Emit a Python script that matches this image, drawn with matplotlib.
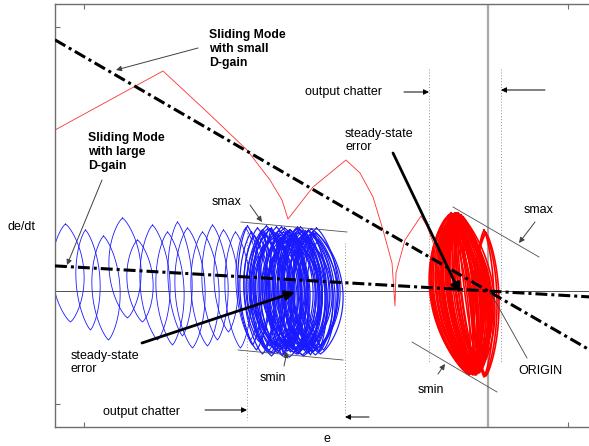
import numpy as np
import matplotlib
matplotlib.use("Agg")
from matplotlib import pyplot as plt

plt.rcParams["font.family"] = ["Liberation Sans", "DejaVu Sans"]
plt.rcParams["font.size"] = 9

# phase plane, e on x and de/dt on y (arbitrary units, origin at 0,0)
x_lim = (-433, 109)
y_lim = (-136, 287)

# sliding surfaces through the origin
slope_small_gain = -0.58
slope_large_gain = -0.058

# small D-gain reaching trajectory (before it settles into the red band)
reach_e = [-433, -325, -283, -241, -218, -206, -200, -175, -142, -128, -115,
           -105, -96, -93, -92, -83, -67, -61, -54, -48]
reach_de = [161, 220, 181, 141, 111, 91, 72, 104, 131, 118, 94,
            61, 28, -15, 18, 51, 75, 65, 46, 21]

# chattering loops, large D-gain (blue): centre e, half width, top, bottom
# first 14 are the loose loops while reaching, the rest the chatter band
blue_e = [-420, -400, -382, -363, -348, -333, -318, -308, -298, -283, -273,
          -262, -250, -240,
          -238, -234, -231, -228, -226, -223, -221, -219, -217, -215, -213,
          -211, -209, -207, -205, -203, -201, -199, -197, -195, -193, -191,
          -189, -187, -185, -183, -181, -179, -177, -175, -173, -171, -169,
          -167, -170, -174, -178, -182, -188, -194,
          -224, -220, -216, -212, -208, -204, -200, -196, -192, -188, -184,
          -180, -176, -172, -218, -210, -202, -194, -186, -178, -214, -206,
          -198, -190, -182, -196, -204]
blue_hw = [16, 12, 14, 16, 13, 15, 14, 12, 15, 14, 13, 12, 13, 12,
           12, 14, 13, 16, 12, 18, 14, 20, 15, 22, 17, 24, 19, 26, 21, 16,
           23, 18, 25, 20, 14, 22, 17, 24, 19, 21, 15, 23, 18, 20, 22, 16,
           19, 14, 25, 26, 28, 24, 22, 26,
           10, 17, 13, 21, 11, 18, 14, 23, 12, 19, 16, 10, 13, 11, 24, 27,
           22, 28, 20, 17, 8, 9, 11, 7, 12, 30, 6]
blue_top = [67, 61, 55, 73, 51, 66, 59, 69, 63, 59, 66, 61, 59, 63,
            65, 59, 55, 63, 53, 61, 57, 65, 51, 62, 58, 54, 64, 60, 56, 52,
            63, 59, 55, 61, 57, 53, 62, 58, 64, 60, 56, 52, 61, 57, 59, 55,
            63, 51, 58, 62, 60, 56, 64, 54,
            60, 56, 62, 53, 58, 64, 55, 61, 57, 63, 54, 60, 56, 58, 62, 57,
            59, 54, 61, 55, 63, 52, 60, 58, 56, 59, 53]
blue_bot = [-31, -39, -49, -27, -31, -49, -54, -45, -57, -55, -49, -41, -57, -49,
            -54, -59, -51, -63, -57, -61, -55, -65, -53, -59, -62, -56, -64, -58,
            -52, -60, -66, -55, -61, -57, -63, -54, -59, -65, -56, -62, -58, -53,
            -60, -64, -57, -61, -55, -59, -63, -58, -61, -56, -64, -60,
            -57, -62, -54, -60, -65, -56, -61, -58, -63, -55, -59, -64, -57,
            -60, -62, -58, -56, -63, -59, -61, -55, -64, -57, -60, -62, -59, -58]

# chattering loops, small D-gain (red); lean = e shift from top to bottom
red_e = [-28, -26, -24, -27, -22, -25, -20, -23, -26, -21, -24, -19, -22, -25,
         -20, -23, -18, -30, -21, -29, -17, -27, -22, -25,
         -28, -24, -20, -26, -22, -18, -30, -27, -23, -19, -25, -21, -29, -24,
         -20, -26, -22, -28, -31, -16,
         -4, -3, -2]
red_hw = [28, 26, 24, 22, 21, 19, 18, 16, 15, 13, 12, 10, 9, 7, 6, 4,
          20, 25, 27, 17, 15, 11, 23, 29,
          30, 27, 21, 23, 24, 19, 21, 19, 22, 20, 14, 17, 8, 5, 3, 18, 24, 12,
          26, 16,
          10, 12, 13]
red_top = [78, 77, 76, 75, 77, 73, 75, 72, 71, 73, 69, 71, 68, 67, 69, 66,
           76, 74, 78, 72, 74, 70, 75, 77,
           77, 78, 76, 75, 77, 74, 76, 73, 75, 72, 70, 74, 69, 67, 66, 73, 78,
           71, 75, 74,
           61, 59, 58]
red_bot = [-84, -83, -82, -81, -83, -79, -81, -78, -77, -80, -76, -79, -75, -74,
           -77, -73, -82, -80, -84, -78, -81, -76, -83, -82,
           -83, -84, -82, -81, -83, -80, -82, -79, -81, -78, -77, -80, -76, -74,
           -73, -79, -84, -77, -81, -80,
           -86, -85, -85]
red_lean = [18] * 44 + [0, 0, 0]


def loop_xy(em, hw, top, bot, lean, n=50):
    s = np.linspace(0, 1, n)
    y = top + (bot - top) * s
    xc = em - lean / 2 + lean * s
    bulge = hw * (4 * s * (1 - s)) ** 0.8
    x = np.concatenate([xc - bulge, (xc + bulge)[::-1]])
    return x, np.concatenate([y, y[::-1]])


fig = plt.figure(figsize=(5.89, 4.46), dpi=100)
ax = fig.add_axes([55 / 589, 1 - 427 / 446, 542 / 589, 423 / 446])
ax.set_xlim(*x_lim)
ax.set_ylim(*y_lim)
ax.set_xticks([-404, 80])
ax.set_yticks([264, -113])
ax.tick_params(direction="in", length=3.5, width=0.8, color="#6e6e6e",
               top=True, right=True, labelbottom=False, labelleft=False)
for sp in ax.spines.values():
    sp.set_color("#6e6e6e")
    sp.set_linewidth(1.0)

ax.axhline(0, color="#505050", lw=0.7, zorder=1)
ax.axvline(0, color="#a8a8a8", lw=1.6, zorder=1)

# output chatter bounds
grey_dot = dict(color="#909090", lw=0.7, linestyle=(0, (1, 2)), zorder=1)
ax.plot([-59, -59], [222, -72], **grey_dot)
ax.plot([13, 13], [222, -72], **grey_dot)
ax.plot([-143, -143], [48, -122], **grey_dot)
ax.plot([-241, -241], [58, -129], **grey_dot)

for i in range(len(blue_e)):
    x, y = loop_xy(blue_e[i], blue_hw[i], blue_top[i], blue_bot[i], 5)
    ax.plot(x, y, color="#1a1aff", lw=0.6 if i < 14 else 0.85, zorder=2)

for i in range(len(red_e)):
    x, y = loop_xy(red_e[i], red_hw[i], red_top[i], red_bot[i], red_lean[i])
    ax.plot(x, y, color="#ff0000", lw=1.2, zorder=2)

ax.plot(reach_e, reach_de, color="#ff3030", lw=0.6, zorder=2)

# smax / smin boundaries
thin = dict(color="#505050", lw=0.6, zorder=3)
ax.plot([-247, -141], [69, 59], **thin)
ax.plot([-250, -145], [-59, -69], **thin)
ax.plot([-35, 51], [84, 34], **thin)
ax.plot([-76, 9], [-51, -101], **thin)

dashdot = (0, (3.9, 1.3, 1.0, 1.3))
ax.axline((0, 0), slope=slope_small_gain, color="k", lw=2.2, linestyle=dashdot, zorder=4)
ax.axline((0, 0), slope=slope_large_gain, color="k", lw=2.2, linestyle=dashdot, zorder=4)


def arrow(tail, tip, color="#404040", lw=0.7, size=8):
    ax.annotate("", xy=tip, xytext=tail,
                arrowprops=dict(arrowstyle="-|>", color=color, lw=lw,
                                mutation_scale=size, shrinkA=0, shrinkB=0),
                zorder=5)


ax.text(-279, 262, "Sliding Mode\nwith small\nD-gain", fontweight="bold",
        fontsize=8.8, va="top", ha="left", linespacing=1.2)
arrow((-290, 243), (-372, 221))
ax.text(-400, 159, "Sliding Mode\nwith large\nD-gain", fontweight="bold",
        fontsize=8.8, va="top", ha="left", linespacing=1.2)
arrow((-386, 111), (-421, 26))

ax.text(-276, 89, "smax", va="center")
arrow((-238, 86), (-226, 69))
ax.text(-228, -87, "smin", va="center")
arrow((-204, -75), (-201, -61))
ax.text(36, 81, "smax", va="center")
arrow((47, 69), (31, 48))
ax.text(-70, -99, "smin", va="center")
arrow((-50, -83), (-43, -73))

ax.text(30, -80, "ORIGIN", va="center")
ax.plot([39, 2], [-67, -1], color="#404040", lw=0.6, zorder=5)

ax.text(-417, -59, "steady-state\nerror", va="top", linespacing=1.1)
arrow((-346, -52), (-193, -1), color="k", lw=2.0, size=14)
ax.text(-143, 163, "steady-state\nerror", va="top", linespacing=1.1)
arrow((-95, 138), (-28, -2), color="k", lw=2.0, size=14)

ax.text(-183, 199, "output chatter", va="center")
arrow((-84, 199), (-59, 199), color="k")
arrow((57, 201), (13, 201), color="k")
ax.text(-385, -121, "output chatter", va="center")
arrow((-283, -119), (-241, -119), color="k")
arrow((-119, -126), (-143, -126), color="k")

fig.text(22 / 589, 1 - 227 / 446, "de/dt", ha="center", va="center")
fig.text(327 / 589, 1 - 439 / 446, "e", ha="center", va="center")

fig.savefig("out.png", dpi=100)
